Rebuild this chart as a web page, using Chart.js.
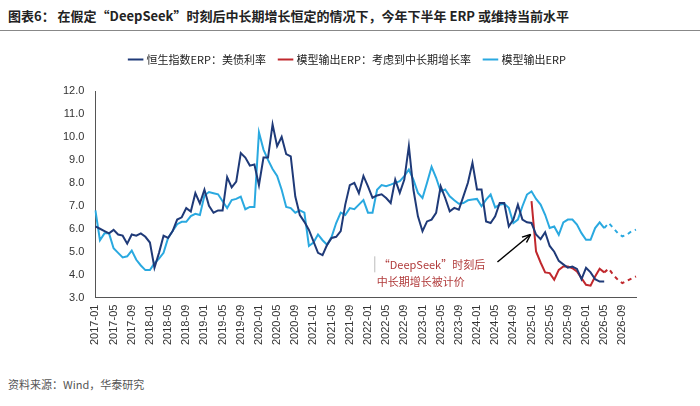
<!DOCTYPE html>
<html><head><meta charset="utf-8">
<script src="https://cdn.jsdelivr.net/npm/chart.js@4"></script>
<style>
body{margin:0;width:700px;height:406px;background:#fff;font-family:"Noto Sans CJK SC",sans-serif;position:relative;overflow:hidden}
#title{position:absolute;left:8px;top:6px;font-size:13px;font-weight:bold;color:#222}
#line{position:absolute;left:0;top:30px;width:700px;height:1px;background:#888}
#src{position:absolute;left:8px;top:376px;font-size:11px;color:#555}
#wrap{position:absolute;left:0;top:40px;width:700px;height:308px}
</style></head><body>
<div id="title">图表6：&nbsp;在假定“DeepSeek”时刻后中长期增长恒定的情况下，今年下半年 ERP 或维持当前水平</div>
<div id="line"></div>
<div id="wrap"><canvas id="c"></canvas></div>
<div id="src">资料来源：Wind，华泰研究</div>
<script>
// months 2017-01 .. 2026-12
var months = [];
for (var y = 2017; y <= 2026; y++) for (var m = 1; m <= 12; m++) months.push(y + "-" + (m < 10 ? "0" + m : m));

var hsiErp = [6.1,6.0,5.9,5.8,5.95,5.75,5.7,5.35,5.75,5.7,5.8,5.65,5.4,4.3,4.95,5.7,5.6,5.9,6.4,6.5,6.9,6.75,7.55,7.1,7.7,7.0,6.7,6.8,6.8,8.25,7.8,8.05,9.3,9.1,8.75,8.8,7.9,9.1,9.1,10.55,9.6,10.0,9.25,9.15,7.4,6.6,6.3,5.95,5.45,4.95,4.85,5.3,5.6,5.65,5.9,7.05,7.9,8.0,7.55,8.3,7.85,7.35,7.45,7.5,
  7.34,7.12,8.14,7.56,8.14,9.6,7.71,6.54,5.89,6.32,6.4,6.69,7.85,7.34,6.76,6.91,6.83,7.41,8.0,8.87,7.71,7.71,6.32,6.25,6.54,7.12,7.12,6.1,6.4,7.05,6.4,6.28,
  6.25,5.75,5.55,5.85,5.25,5.0,4.6,4.45,4.3,4.35,4.25,3.8,4.3,4.1,3.8,3.7,3.7];
var modelGrowth = [null];
for (var i = 1; i < 96; i++) modelGrowth.push(null);
modelGrowth = modelGrowth.concat([7.2,5.01,4.53,4.1,4.07,3.78,4.21,4.36,4.36,4.28,4.14,3.85,3.56,3.52,3.92,4.26,4.1,4.26,3.99,3.78,3.63,3.73,3.83,3.92]);
var modelErp = [6.8,5.5,5.8,5.8,5.15,4.95,4.75,4.8,5.05,4.65,4.4,4.2,4.2,4.5,4.7,4.95,5.6,5.9,6.2,6.3,6.3,6.55,6.65,6.6,7.45,7.6,7.55,7.5,7.2,6.9,7.25,7.3,7.4,6.85,6.95,6.95,10.2,9.45,9.0,8.6,8.3,7.7,6.95,6.9,6.7,6.8,6.7,5.25,5.4,5.75,5.5,5.3,5.65,6.25,6.7,6.6,6.9,6.85,7.05,7.25,6.7,6.7,7.7,7.9,
  7.85,7.92,8.0,8.07,8.29,8.58,8.14,7.56,7.34,8.0,8.7,8.22,7.63,7.71,7.41,7.24,7.09,7.12,7.24,7.27,7.3,6.98,7.27,7.49,6.93,7.05,7.09,6.91,6.25,6.4,6.98,7.49,
  7.63,7.3,7.05,6.61,6.03,6.1,5.74,6.28,6.4,6.4,6.18,5.81,5.52,5.52,6.03,6.28,6.03,6.25,6.03,5.81,5.67,5.74,5.89,5.96];
var dashFrom = 112;

var dashSeg = {borderDash: function(ctx){ return ctx.p0DataIndex >= dashFrom ? [4,4] : undefined; }};

var legendGap = {
  id: 'legendGap',
  beforeInit: function(chart){
    var fit = chart.legend.fit;
    chart.legend.fit = function(){ fit.bind(chart.legend)(); this.height += 16; };
  }
};

var notePlugin = {
  id: 'note',
  afterDatasetsDraw: function(chart){
    var c = chart.ctx, xs = chart.scales.x, ys = chart.scales.y;
    // arrow
    var x1 = xs.getPixelForValue(88.5), y1 = ys.getPixelForValue(4.55);
    var x2 = xs.getPixelForValue(95.8), y2 = ys.getPixelForValue(5.75);
    c.save();
    c.strokeStyle = '#000'; c.fillStyle = '#000'; c.lineWidth = 1.5;
    c.beginPath(); c.moveTo(x1, y1); c.lineTo(x2, y2); c.stroke();
    var a = Math.atan2(y2 - y1, x2 - x1);
    c.beginPath(); c.moveTo(x2, y2);
    c.lineTo(x2 - 9 * Math.cos(a - 0.4), y2 - 9 * Math.sin(a - 0.4));
    c.moveTo(x2, y2);
    c.lineTo(x2 - 9 * Math.cos(a + 0.4), y2 - 9 * Math.sin(a + 0.4));
    c.stroke();
    // text
    var tx = xs.getPixelForValue(61.5), ty = ys.getPixelForValue(4.45);
    c.fillStyle = '#b03a3a'; c.font = '11px "Noto Sans CJK SC"';
    c.textBaseline = 'middle';
    c.fillText('“DeepSeek”时刻后', tx + 4, ty);
    c.fillText('中长期增长被计价', tx + 2, ty + 17);
    c.strokeStyle = '#bbb'; c.lineWidth = 1;
    c.beginPath(); c.moveTo(tx, ty - 8); c.lineTo(tx, ty + 8); c.stroke();
    c.restore();
  }
};

new Chart(document.getElementById('c'), {
  type: 'line',
  data: {
    labels: months,
    datasets: [
      {label: '恒生指数ERP：美债利率', data: hsiErp, borderColor: '#1f3a78', borderWidth: 2, pointRadius: 0, tension: 0},
      {label: '模型输出ERP：考虑到中长期增长率', data: modelGrowth, borderColor: '#c0282d', borderWidth: 2, pointRadius: 0, tension: 0, segment: dashSeg},
      {label: '模型输出ERP', data: modelErp, borderColor: '#2aa9e0', borderWidth: 2, pointRadius: 0, tension: 0, segment: dashSeg}
    ]
  },
  options: {
    responsive: true, maintainAspectRatio: false, animation: false,
    layout: {padding: {left: 60, right: 64, top: 0}},
    plugins: {
      legend: {
        labels: {usePointStyle: true, pointStyle: 'line', boxWidth: 30, color: '#222', font: {size: 11, family: '"Noto Sans CJK SC"'}, padding: 14},
        onClick: null
      },
      tooltip: {enabled: false}
    },
    scales: {
      x: {
        grid: {display: false, drawTicks: true, tickLength: 4},
        border: {color: '#555'},
        ticks: {autoSkip: false, maxRotation: 90, minRotation: 90, color: '#333', font: {size: 11},
          callback: function(v, i){ return i % 4 === 0 ? months[i] : ''; }}
      },
      y: {
        min: 3, max: 12,
        grid: {display: false},
        border: {color: '#555'},
        ticks: {stepSize: 1, color: '#333', font: {size: 11}, callback: function(v){ return v.toFixed(1); }}
      }
    }
  },
  plugins: [legendGap, notePlugin]
});
</script>
</body></html>
